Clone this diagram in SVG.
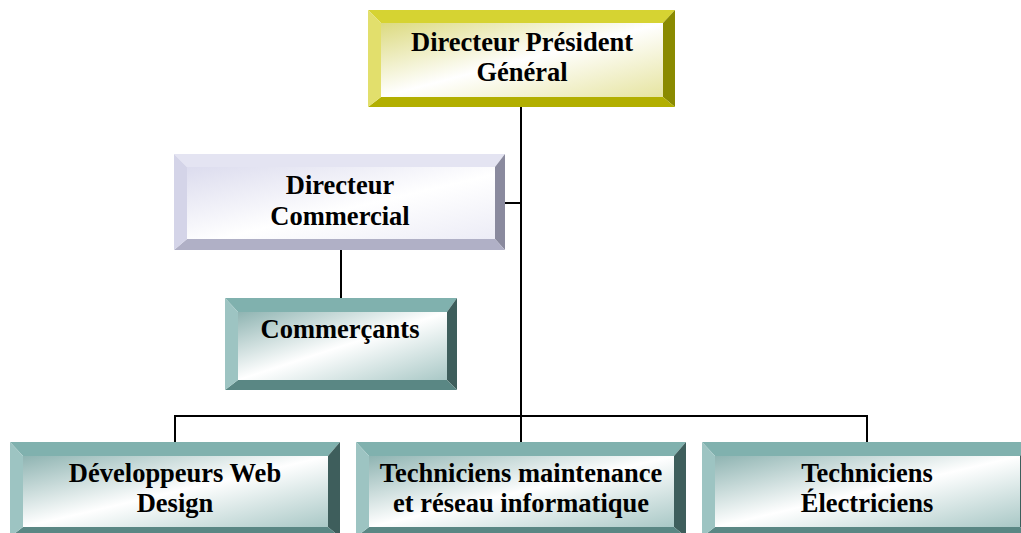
<svg xmlns="http://www.w3.org/2000/svg" width="1021" height="533" viewBox="0 0 1021 533">
<defs>
<linearGradient id="gy" x1="0" y1="0" x2="1" y2="1"><stop offset="0" stop-color="#dcda80"/><stop offset="0.5" stop-color="#ffffff"/><stop offset="1" stop-color="#e6e4a0"/></linearGradient>
<linearGradient id="gl" x1="0" y1="0" x2="1" y2="1"><stop offset="0" stop-color="#dcdcee"/><stop offset="0.55" stop-color="#ffffff"/><stop offset="1" stop-color="#ececf6"/></linearGradient>
<linearGradient id="gt" x1="0" y1="0" x2="1" y2="1"><stop offset="0" stop-color="#8fb4b2"/><stop offset="0.5" stop-color="#ffffff"/><stop offset="1" stop-color="#a9c8c6"/></linearGradient>
</defs>
<style>
text{font-family:"Liberation Serif","Times New Roman",serif;font-weight:bold;font-size:26.5px;fill:#000;text-anchor:middle}
.c{stroke:#000;stroke-width:2;fill:none}
.yt{fill:#d6d332}.yl{fill:#e2df6c}.yr{fill:#8a8a00}.yb{fill:#b2af00}
.lt{fill:#e4e4f2}.ll{fill:#d4d4e8}.lr{fill:#8a8a9e}.lb{fill:#b0b0c6}
.tt{fill:#80b1ae}.tl{fill:#9dc4c2}.tr{fill:#3e5e5c}.tb{fill:#5a8784}
</style>
<g id="connectors">
<path class="c" d="M521 107V416M505 203H521M341 250V298M175 442V416H867V442M521 416V442"/>
</g>
<g id="pdg">
<rect x="381" y="23" width="282" height="74" fill="url(#gy)"/>
<polygon class="yt" points="368,10 675,10 663,23 381,23"/>
<polygon class="yr" points="675,10 675,107 663,97 663,23"/>
<polygon class="yb" points="368,107 675,107 663,97 381,97"/>
<polygon class="yl" points="368,10 381,23 381,97 368,107"/>
<text x="522" y="51">Directeur Président</text>
<text x="522" y="81">Général</text>
</g>
<g id="dircom">
<rect x="187" y="167" width="308" height="72" fill="url(#gl)"/>
<polygon class="lt" points="174,154 505,154 495,167 187,167"/>
<polygon class="lr" points="505,154 505,250 495,239 495,167"/>
<polygon class="lb" points="174,250 505,250 495,239 187,239"/>
<polygon class="ll" points="174,154 187,167 187,239 174,250"/>
<text x="340" y="194">Directeur</text>
<text x="340" y="225">Commercial</text>
</g>
<g id="commercants">
<rect x="238" y="312" width="209" height="68" fill="url(#gt)"/>
<polygon class="tt" points="225,298 457,298 447,312 238,312"/>
<polygon class="tr" points="457,298 457,390 447,380 447,312"/>
<polygon class="tb" points="225,390 457,390 447,380 238,380"/>
<polygon class="tl" points="225,298 238,312 238,380 225,390"/>
<text x="340" y="338">Commerçants</text>
</g>
<g id="devweb">
<rect x="23" y="456" width="305" height="71" fill="url(#gt)"/>
<polygon class="tt" points="10,442 340,442 328,456 23,456"/>
<polygon class="tr" points="340,442 340,537 328,527 328,456"/>
<polygon class="tb" points="10,537 340,537 328,527 23,527"/>
<polygon class="tl" points="10,442 23,456 23,527 10,537"/>
<text x="175" y="482">Développeurs Web</text>
<text x="175" y="512">Design</text>
</g>
<g id="techmaint">
<rect x="369" y="456" width="305" height="71" fill="url(#gt)"/>
<polygon class="tt" points="356,442 686,442 674,456 369,456"/>
<polygon class="tr" points="686,442 686,537 674,527 674,456"/>
<polygon class="tb" points="356,537 686,537 674,527 369,527"/>
<polygon class="tl" points="356,442 369,456 369,527 356,537"/>
<text x="521" y="482">Techniciens maintenance</text>
<text x="521" y="512">et réseau informatique</text>
</g>
<g id="techelec">
<rect x="715" y="456" width="305" height="71" fill="url(#gt)"/>
<polygon class="tt" points="702,442 1032,442 1020,456 715,456"/>
<polygon class="tr" points="1032,442 1032,537 1020,527 1020,456"/>
<polygon class="tb" points="702,537 1032,537 1020,527 715,527"/>
<polygon class="tl" points="702,442 715,456 715,527 702,537"/>
<text x="867" y="482">Techniciens</text>
<text x="867" y="512">Électriciens</text>
</g>
</svg>
